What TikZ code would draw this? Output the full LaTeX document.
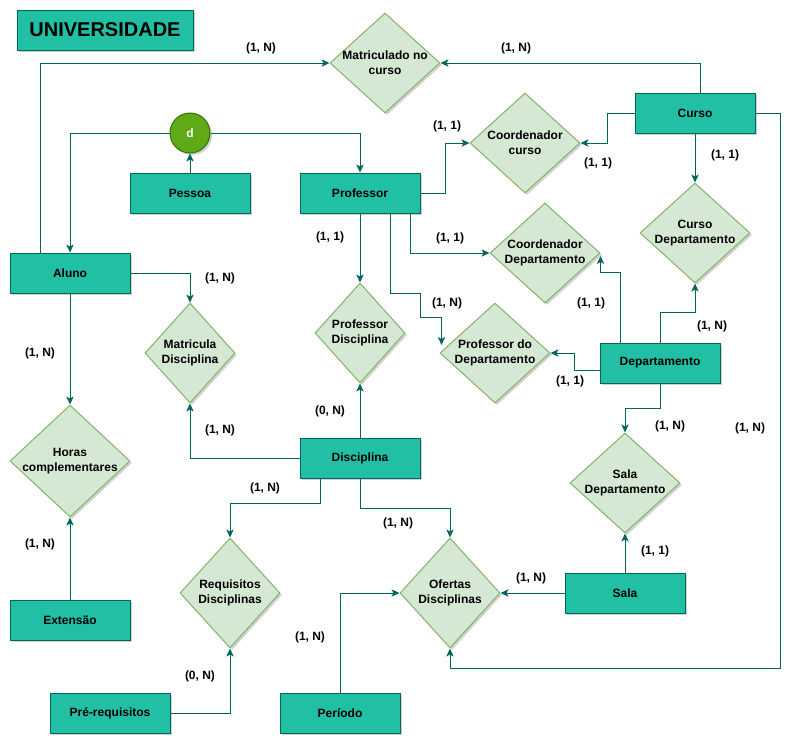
\documentclass[tikz,border=0pt]{standalone}
\usepackage{fontspec}
\setmainfont{Liberation Sans}
\usetikzlibrary{shapes.geometric, arrows.meta, positioning, calc, shadows}
\definecolor{entfill}{RGB}{33, 192, 165}
\definecolor{entline}{RGB}{0, 102, 88}
\definecolor{relfill}{RGB}{213, 232, 212}
\definecolor{relline}{RGB}{130, 179, 102}
\definecolor{specfill}{RGB}{96, 169, 23}
\definecolor{specline}{RGB}{45, 118, 0}
\newcommand{\erfont}{\fontsize{9}{11}\selectfont\bfseries}
\tikzstyle{shade} = [drop shadow={shadow xshift=1.5pt, shadow yshift=-1.5pt, opacity=0.18, fill=black}]
\tikzstyle{entity}   = [rectangle, minimum width=90pt, minimum height=30pt,
                        text centered, draw=entline, fill=entfill, line width=0.75pt,
                        font=\erfont, shade]
\tikzstyle{relation} = [diamond, minimum width=82.5pt, minimum height=75pt, inner sep=0pt,
                        draw=relline, fill=relfill, line width=0.75pt, shade]
\tikzstyle{spec}     = [circle, minimum size=30pt, inner sep=0pt, draw=specline,
                        fill=specfill, line width=0.75pt, text=white, font=\erfont, shade]
\tikzstyle{card}     = [font=\erfont]
\tikzstyle{arrow}    = [-{Stealth[length=6pt, width=5.5pt, inset=1.5pt]}, draw=entline, line width=0.75pt]

\begin{document}
\begin{tikzpicture}[x=0.75pt, y=-0.75pt]
  \useasboundingbox (0,0) rectangle (805,750);

  \node (title)   [entity, minimum width=132pt, font=\fontsize{15}{18}\selectfont\bfseries] at (105,30) {UNIVERSIDADE};

  % entities
  \node (curso)   [entity] at (695,113) {Curso};
  \node (pessoa)  [entity] at (190,193) {Pessoa};
  \node (prof)    [entity] at (360,193) {Professor};
  \node (aluno)   [entity] at (70,273)  {Aluno};
  \node (dep)     [entity] at (660,363) {Departamento};
  \node (disc)    [entity] at (360,458) {Disciplina};
  \node (sala)    [entity] at (625,593) {Sala};
  \node (ext)     [entity] at (70,620)  {Extensão};
  \node (prereq)  [entity] at (110,713) {Pré-requisitos};
  \node (periodo) [entity] at (340,713) {Período};

  \node (d)       [spec] at (190,133) {d};

  % relationships
  \node (mat)      [relation, label={[font=\erfont, align=center]center:Matriculado no\\curso}] at (385,63) {};
  \node (ccurso)   [relation, label={[font=\erfont, align=center]center:Coordenador\\curso}] at (525,143) {};
  \node (cdep)     [relation, label={[font=\erfont, align=center]center:Curso\\Departamento}] at (695,233) {};
  \node (coorddep) [relation, label={[font=\erfont, align=center]center:Coordenador\\Departamento}] at (545,253) {};
  \node (matdisc)  [relation, minimum width=67.5pt, label={[font=\erfont, align=center]center:Matricula\\Disciplina}] at (190,353) {};
  \node (profdisc) [relation, minimum width=67.5pt, label={[font=\erfont, align=center]center:Professor\\Disciplina}] at (360,333) {};
  \node (profdep)  [relation, label={[font=\erfont, align=center]center:Professor do\\Departamento}] at (495,353) {};
  \node (horas)    [relation, minimum width=90pt, minimum height=84pt, label={[font=\erfont, align=center]center:Horas\\complementares}] at (70,461) {};
  \node (saladep)  [relation, label={[font=\erfont, align=center]center:Sala\\Departamento}] at (625,483) {};
  \node (req)      [relation, minimum width=75pt, minimum height=82.5pt, label={[font=\erfont, align=center]center:Requisitos\\Disciplinas}] at (230,593) {};
  \node (ofer)     [relation, minimum width=75pt, minimum height=82.5pt, label={[font=\erfont, align=center]center:Ofertas\\Disciplinas}] at (450,593) {};

  % connectors
  \draw [arrow] ($(aluno.north)+(-30,0)$) |- (mat.west);
  \draw [arrow] ($(curso.north)+(5,0)$) |- (mat.east);
  \draw [arrow] (d.west) -| (aluno.north);
  \draw [arrow] (d.east) -| (prof.north);
  \draw [arrow] (pessoa.north) -- (d.south);
  \draw [arrow] (prof.east) -- ++(25,0) |- (ccurso.west);
  \draw [arrow] (curso.west) -- ++(-27,0) |- (ccurso.east);
  \draw [arrow] (curso.south) -- (cdep.north);
  \draw [arrow] (dep.north) -- ++(0,-30) -| (cdep.south);
  \draw [arrow] ($(prof.south)+(50,0)$) |- (coorddep.west);
  \draw [arrow] ($(dep.north)+(-40,0)$) -- ++(0,-70) -| ($(coorddep.east)+(0,3)$);
  \draw [arrow] ($(prof.south)+(30,0)$) -- ++(0,80) -- ++(30,0) -- ++(0,24) -| ($(profdep.west)+(2,-8)$);
  \draw [arrow] ($(dep.west)+(0,7)$) -- ++(-25,0) |- (profdep.east);
  \draw [arrow] (prof.south) -- (profdisc.north);
  \draw [arrow] (disc.north) -- (profdisc.south);
  \draw [arrow] (aluno.east) -| (matdisc.north);
  \draw [arrow] (disc.west) -| (matdisc.south);
  \draw [arrow] (aluno.south) -- (horas.north);
  \draw [arrow] (ext.north) -- (horas.south);
  \draw [arrow] (dep.south) -- ++(0,25) -| (saladep.north);
  \draw [arrow] (sala.north) -- (saladep.south);
  \draw [arrow] ($(disc.south)+(-40,0)$) -- ++(0,25) -| (req.north);
  \draw [arrow] (disc.south) -- ++(0,30) -| (ofer.north);
  \draw [arrow] (prereq.east) -| (req.south);
  \draw [arrow] (periodo.north) |- (ofer.west);
  \draw [arrow] (sala.west) -- (ofer.east);
  \draw [arrow] (curso.east) -- ++(25,0) -- ++(0,555) -| (ofer.south);

  % cardinalities
  \node (c1)  [card] at (261,48)  {(1, N)};
  \node (c2)  [card] at (516,48)  {(1, N)};
  \node (c3)  [card] at (447,126) {(1, 1)};
  \node (c4)  [card] at (598,163) {(1, 1)};
  \node (c5)  [card] at (725,155) {(1, 1)};
  \node (c6)  [card] at (450,238) {(1, 1)};
  \node (c7)  [card] at (330,237) {(1, 1)};
  \node (c8)  [card] at (591,303) {(1, 1)};
  \node (c9)  [card] at (447,303) {(1, N)};
  \node (c10) [card] at (712,326) {(1, N)};
  \node (c11) [card] at (570,381) {(1, 1)};
  \node (c12) [card] at (670,426) {(1, N)};
  \node (c13) [card] at (750,428) {(1, N)};
  \node (c14) [card] at (220,278) {(1, N)};
  \node (c15) [card] at (40,353)  {(1, N)};
  \node (c16) [card] at (220,430) {(1, N)};
  \node (c17) [card] at (330,411) {(0, N)};
  \node (c18) [card] at (265,488) {(1, N)};
  \node (c19) [card] at (40,544)  {(1, N)};
  \node (c20) [card] at (200,676) {(0, N)};
  \node (c21) [card] at (310,637) {(1, N)};
  \node (c22) [card] at (398,523) {(1, N)};
  \node (c23) [card] at (531,578) {(1, N)};
  \node (c24) [card] at (655,551) {(1, 1)};
\end{tikzpicture}
\end{document}
